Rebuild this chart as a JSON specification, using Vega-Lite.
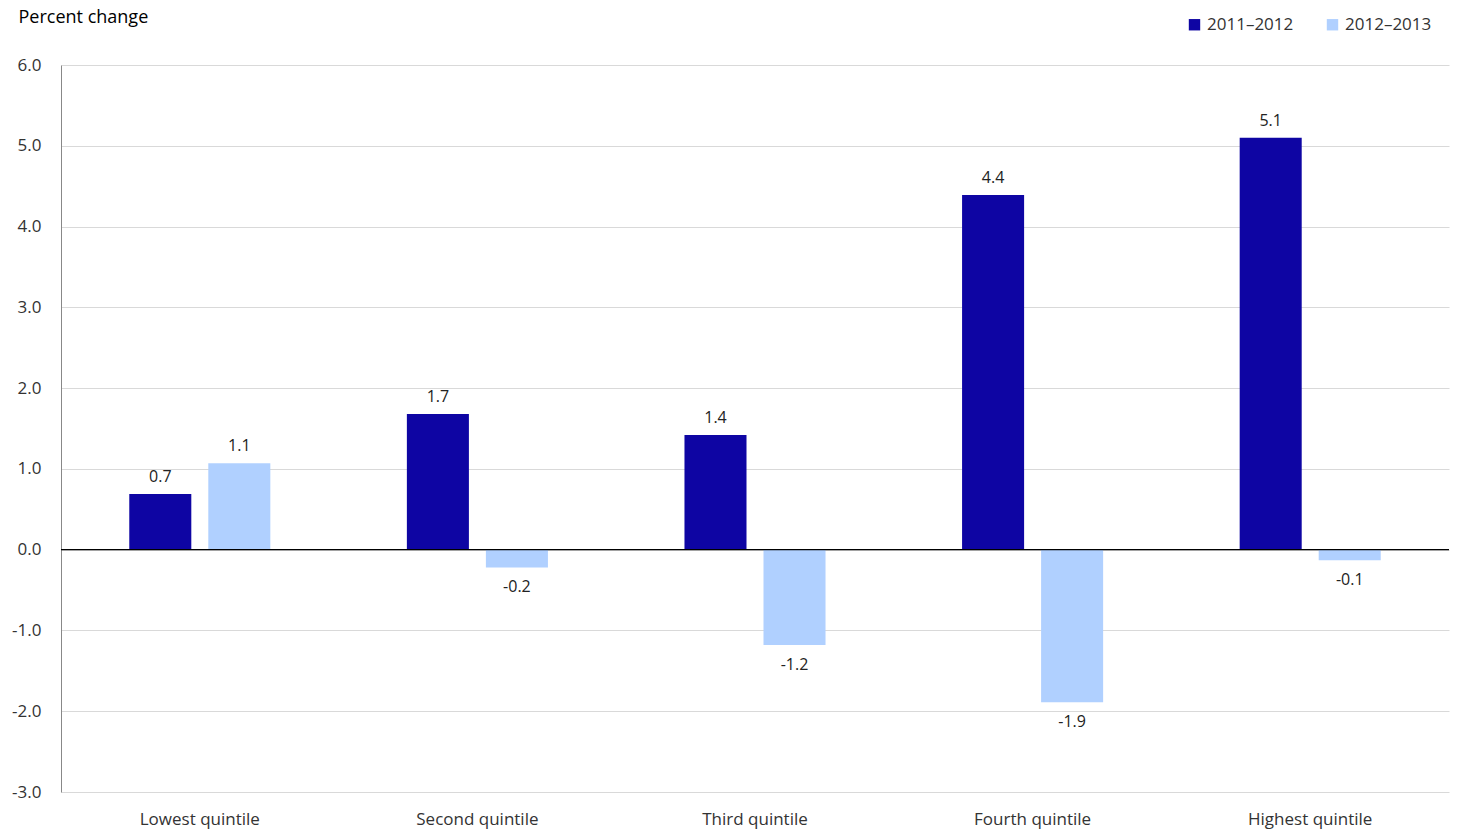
{
"$schema":"https://vega.github.io/schema/vega-lite/v6.json",
"width":1388,"height":727,
"autosize":{"type":"none"},
"padding":{"left":61,"top":65,"right":10,"bottom":41},
"config":{"font":"Open Sans","view":{"stroke":null}},
"data":{"values":[
{"q":"Lowest quintile","p":"2011–2012","v":0.69,"l":"0.7"},
{"q":"Lowest quintile","p":"2012–2013","v":1.07,"l":"1.1"},
{"q":"Second quintile","p":"2011–2012","v":1.68,"l":"1.7"},
{"q":"Second quintile","p":"2012–2013","v":-0.22,"l":"-0.2"},
{"q":"Third quintile","p":"2011–2012","v":1.42,"l":"1.4"},
{"q":"Third quintile","p":"2012–2013","v":-1.18,"l":"-1.2"},
{"q":"Fourth quintile","p":"2011–2012","v":4.39,"l":"4.4"},
{"q":"Fourth quintile","p":"2012–2013","v":-1.89,"l":"-1.9"},
{"q":"Highest quintile","p":"2011–2012","v":5.1,"l":"5.1"},
{"q":"Highest quintile","p":"2012–2013","v":-0.13,"l":"-0.1"}
]},
"layer":[
{"mark":{"type":"bar"},
"encoding":{
"x":{"field":"q","type":"nominal","sort":null,"scale":{"paddingInner":0,"paddingOuter":0},
"axis":{"title":null,"labelAngle":0,"domain":false,"ticks":false,"labelFontSize":17,"labelColor":"#333","labelPadding":19,"orient":"bottom"}},
"xOffset":{"field":"p","type":"nominal","scale":{"paddingInner":0.215,"paddingOuter":0.864}},
"y":{"field":"v","type":"quantitative","scale":{"domain":[-3,6],"nice":false},
"axis":{"values":[-3,-2,-1,0,1,2,3,4,5,6],"labelExpr":"replace(format(datum.value,'.1f'),'−','-')","title":"Percent change","titleAngle":0,"titleAlign":"left","titleBaseline":"top","titleX":-43,"titleY":-57,"titleFontSize":18,"titleFontWeight":"normal","titleColor":"#000","labelFontSize":17,"labelColor":"#333","ticks":false,"labelPadding":20,"domainColor":"#888","gridColor":"#d9d9d9"}},
"color":{"field":"p","type":"nominal","scale":{"range":["#0e05a3","#b0d0ff"]},
"legend":{"title":null,"orient":"none","direction":"horizontal","legendX":1125,"legendY":-49,"symbolType":"square","symbolSize":130,"labelFontSize":17,"labelColor":"#333","columnPadding":30,"symbolStrokeWidth":0}}}},
{"mark":{"type":"rule","color":"#000","strokeWidth":1.2},"data":{"values":[{"z":0}]},"encoding":{"y":{"field":"z","type":"quantitative"},"x":{"value":0},"x2":{"value":1388}}},
{"transform":[{"filter":"datum.v>=0"}],"mark":{"type":"text","baseline":"bottom","dy":-9,"fontSize":16,"color":"#222"},
"encoding":{"x":{"field":"q","type":"nominal","sort":null},"xOffset":{"field":"p","type":"nominal"},"y":{"field":"v","type":"quantitative"},"text":{"field":"l"}}},
{"transform":[{"filter":"datum.v<0"}],"mark":{"type":"text","baseline":"top","dy":12,"fontSize":16,"color":"#222"},
"encoding":{"x":{"field":"q","type":"nominal","sort":null},"xOffset":{"field":"p","type":"nominal"},"y":{"field":"v","type":"quantitative"},"text":{"field":"l"}}}
]
}
